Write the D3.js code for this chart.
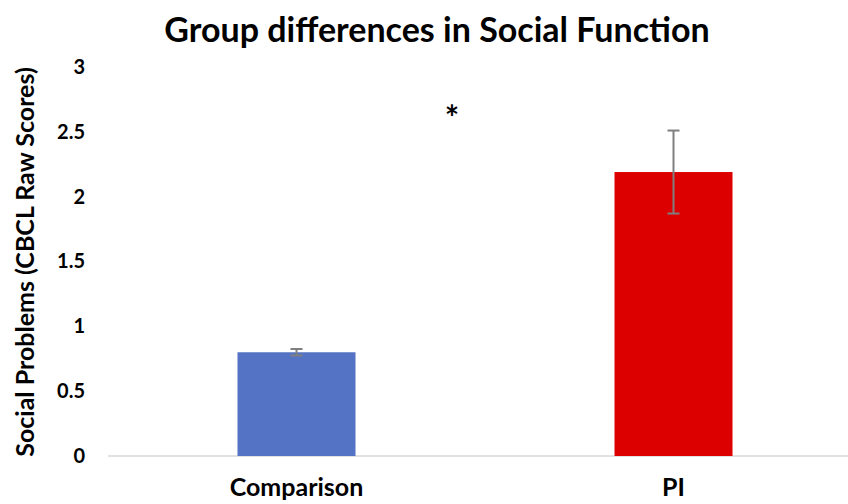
<!DOCTYPE html>
<html><head><meta charset="utf-8">
<script src="https://cdn.jsdelivr.net/npm/d3@7"></script>
<style>body{margin:0;background:#fff}svg{display:block}text{font-family:Lato,"Open Sans",sans-serif;font-weight:bold;fill:#000}</style>
</head><body>
<svg id="c" width="848" height="504"></svg>
<script>
const categories = ["Comparison", "PI"];
const values = [0.80, 2.19];
const errors = [0.025, 0.32];
const colors = ["#5473c4", "#dc0000"];
const yTicks = [0, 0.5, 1, 1.5, 2, 2.5, 3];
const title = "Group differences in Social Function";
const yTitle = "Social Problems (CBCL Raw Scores)";

const svg = d3.select("#c");
const x = d3.scaleBand().domain(categories).range([108, 862]).paddingInner(0.687).paddingOuter(0.3435);
const y = d3.scaleLinear().domain([0, 3]).range([456, 67]);

svg.append("text").attr("x", 437).attr("y", 42).attr("text-anchor", "middle")
  .style("font-size", "34px").text(title);

svg.append("text").attr("transform", "translate(34,262) rotate(-90)").attr("text-anchor", "middle")
  .style("font-size", "25px").text(yTitle);

const yAxis = svg.append("g").attr("transform", "translate(85,0)")
  .call(d3.axisLeft(y).tickValues(yTicks).tickSize(0).tickPadding(0).tickFormat(d3.format("")));
yAxis.select(".domain").remove();
yAxis.selectAll("text").style("font-size", "20px").style("font-family", "Lato, sans-serif").style("font-weight", "bold").attr("fill", "#000");

svg.append("line").attr("x1", 108).attr("x2", 848).attr("y1", y(0)).attr("y2", y(0))
  .attr("stroke", "#d9d9d9").attr("stroke-width", 1.5);

svg.selectAll("rect.bar").data(categories).join("rect").attr("class", "bar")
  .attr("x", d => x(d)).attr("width", x.bandwidth())
  .attr("y", (d, i) => y(values[i])).attr("height", (d, i) => y(0) - y(values[i]))
  .attr("fill", (d, i) => colors[i]);

const eb = svg.selectAll("g.err").data(categories).join("g").attr("class", "err")
  .attr("stroke", "#7f7f7f").attr("stroke-width", 2);
eb.append("line").attr("x1", d => x(d) + x.bandwidth() / 2).attr("x2", d => x(d) + x.bandwidth() / 2)
  .attr("y1", (d, i) => y(values[i] + errors[i])).attr("y2", (d, i) => y(values[i] - errors[i]));
[1, -1].forEach(s => {
  eb.append("line").attr("x1", d => x(d) + x.bandwidth() / 2 - 6).attr("x2", d => x(d) + x.bandwidth() / 2 + 6)
    .attr("y1", (d, i) => y(values[i] + s * errors[i])).attr("y2", (d, i) => y(values[i] + s * errors[i]));
});

svg.append("g").attr("transform", "translate(0,456)")
  .call(d3.axisBottom(x).tickSize(0).tickPadding(0))
  .call(g => g.select(".domain").remove())
  .selectAll("text").attr("dy", 0).attr("y", 40).style("font-size", "25px")
  .style("font-family", "Lato, sans-serif").style("font-weight", "bold").attr("fill", "#000");

svg.append("text").attr("x", 452).attr("y", 130).attr("text-anchor", "middle")
  .style("font-size", "34px").text("*");
</script>
</body></html>
